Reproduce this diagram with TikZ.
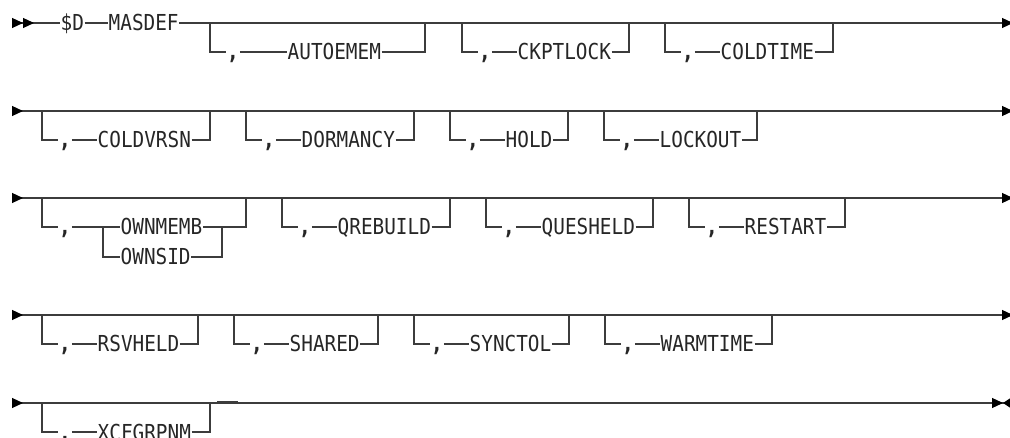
\documentclass[tikz,border=0pt]{standalone}
\usepackage{fontspec}
\setmonofont[FakeStretch=0.88]{DejaVu Sans Mono}
\usetikzlibrary{arrows.meta}
\definecolor{railLine}{HTML}{3c3c3c}
\definecolor{railText}{HTML}{262626}
\def\dropY{29}
\def\commaX{23}
\def\kwX{55}
\def\rowA{23}
\def\rowB{111}
\def\rowC{198}
\def\rowD{315}
\def\rowE{403}

\tikzset{
  rail/.style={draw=railLine, line width=1.2pt},
  kw/.style={font=\ttfamily\fontsize{22}{23}\selectfont, text=railText,
             inner sep=0.5pt, anchor=west, text height=16pt, text depth=0pt},
  sepc/.style={kw, anchor=center, font=\ttfamily\bfseries\fontsize{23}{24}\selectfont},
  railIn/.tip={Triangle[reversed, length=11pt, width=10pt, fill=black, color=black]},
  railOut/.tip={Triangle[length=11pt, width=10pt, fill=black, color=black]},
  railStop/.tip={Triangle[reversed, length=7pt, width=9pt, fill=black, color=black]}
}

% optional keyword hanging below the main line
\newcommand{\optkw}[5]{%
  \coordinate (#1-tl) at (#2,#4);
  \coordinate (#1-tr) at (#3,#4);
  \node[sepc] (#1-c) at (#2+\commaX,#4+\dropY) {,};
  \node[kw] (#1-k) at (#2+\kwX,#4+\dropY) {#5};
  \draw[rail] (#1-tl) |- (#1-c.west);
  \draw[rail] (#1-c.east) -- (#1-k.west);
  \draw[rail] (#1-k.east) -| (#1-tr);
}

\begin{document}
\begin{tikzpicture}[x=1pt, y=-1pt]
    \useasboundingbox (0,0) rectangle (1010,438);

    % ==========================================================
    % 1. ROW ONE
    % ==========================================================
    \coordinate (s1) at (12,\rowA);
    \coordinate (e1) at (1013,\rowA);
    \node[kw] (dolD) at (60,\rowA) {\$D};
    \node[kw] (masdef) at (108,\rowA) {MASDEF};
    \draw[rail, {railIn[]railIn[]}-] (s1) -- (dolD.west);
    \draw[rail] (dolD.east) -- (masdef.west);
    \draw[rail, -{railOut[]}] (masdef.east) -- (e1);

    % AUTOEMEM has a longer lead-in
    \coordinate (auto-tl) at (210,\rowA);
    \coordinate (auto-tr) at (425,\rowA);
    \node[sepc] (auto-c) at (233,\rowA+\dropY) {,};
    \node[kw] (auto-k) at (287,\rowA+\dropY) {AUTOEMEM};
    \draw[rail] (auto-tl) |- (auto-c.west);
    \draw[rail] (auto-c.east) -- (auto-k.west);
    \draw[rail] (auto-k.east) -| (auto-tr);

    \optkw{ckpt}{462}{629}{\rowA}{CKPTLOCK}
    \optkw{coldt}{665}{833}{\rowA}{COLDTIME}

    % ==========================================================
    % 2. ROW TWO
    % ==========================================================
    \coordinate (s2) at (12,\rowB);
    \coordinate (e2) at (1013,\rowB);
    \draw[rail, {railIn[]}-{railOut[]}] (s2) -- (e2);
    \optkw{coldv}{42}{210}{\rowB}{COLDVRSN}
    \optkw{dorm}{246}{414}{\rowB}{DORMANCY}
    \optkw{hold}{450}{568}{\rowB}{HOLD}
    \optkw{lock}{604}{757}{\rowB}{LOCKOUT}

    % ==========================================================
    % 3. ROW THREE (OWNMEMB / OWNSID choice)
    % ==========================================================
    \coordinate (s3) at (12,\rowC);
    \coordinate (e3) at (1013,\rowC);
    \draw[rail, {railIn[]}-{railOut[]}] (s3) -- (e3);

    \coordinate (own-tl) at (42,\rowC);
    \coordinate (own-tr) at (246,\rowC);
    \coordinate (own-split) at (103,\rowC+\dropY);
    \coordinate (own-join) at (222,\rowC+\dropY);
    \node[sepc] (own-c) at (65,\rowC+\dropY) {,};
    \node[kw] (ownmemb) at (120,\rowC+\dropY) {OWNMEMB};
    \node[kw] (ownsid) at (120,\rowC+59) {OWNSID};
    \draw[rail] (own-tl) |- (own-c.west);
    \draw[rail] (own-c.east) -- (own-split) -- (ownmemb.west);
    \draw[rail] (own-split) |- (ownsid.west);
    \draw[rail] (ownmemb.east) -| (own-tr);
    \draw[rail] (ownsid.east) -| (own-join);

    \optkw{qreb}{282}{450}{\rowC}{QREBUILD}
    \optkw{ques}{486}{653}{\rowC}{QUESHELD}
    \optkw{rest}{689}{845}{\rowC}{RESTART}

    % ==========================================================
    % 4. ROW FOUR
    % ==========================================================
    \coordinate (s4) at (12,\rowD);
    \coordinate (e4) at (1013,\rowD);
    \draw[rail, {railIn[]}-{railOut[]}] (s4) -- (e4);
    \optkw{rsv}{42}{198}{\rowD}{RSVHELD}
    \optkw{shar}{234}{378}{\rowD}{SHARED}
    \optkw{sync}{414}{569}{\rowD}{SYNCTOL}
    \optkw{warm}{605}{772}{\rowD}{WARMTIME}

    % ==========================================================
    % 5. ROW FIVE (end of statement)
    % ==========================================================
    \coordinate (s5) at (12,\rowE);
    \coordinate (e5) at (1010,\rowE);
    \draw[rail, {railIn[]}-{railOut[]railStop[]}] (s5) -- (e5);
    \optkw{xcf}{42}{210}{\rowE}{XCFGRPNM}
    \coordinate (nickL) at (217,\rowE-1.2);
    \coordinate (nickR) at (238,\rowE-1.2);
    \draw[rail, line width=0.8pt] (nickL) -- (nickR);

\end{tikzpicture}
\end{document}
